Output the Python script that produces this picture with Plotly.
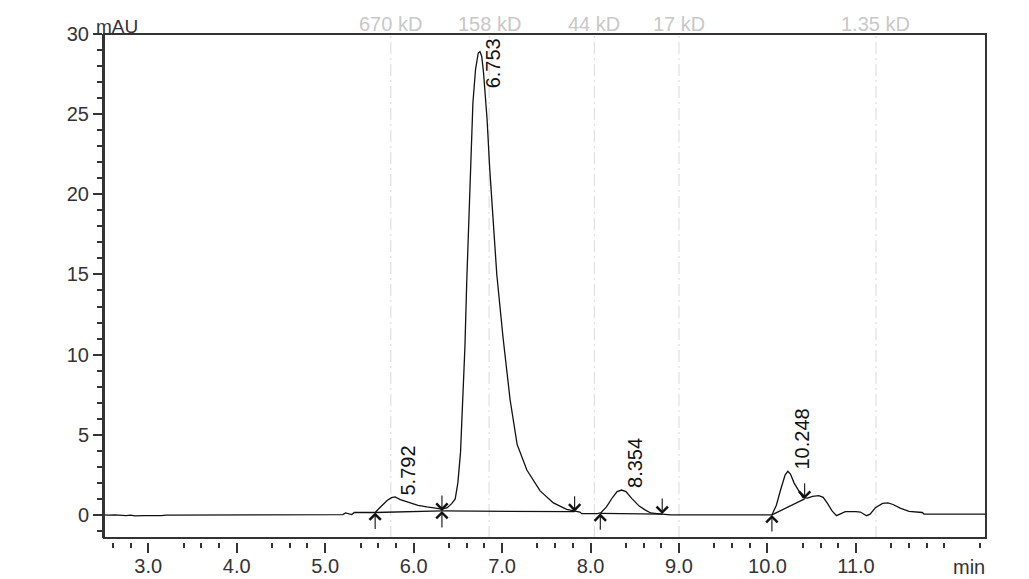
import plotly.graph_objects as go

# chromatogram signal (min, mAU)
time_min = [2.50, 2.55, 2.62, 2.75, 2.80, 2.85, 2.95, 3.05, 3.10, 3.15, 3.20, 4.00, 5.00, 5.20, 5.23, 5.27,
            5.30, 5.33, 5.565, 5.60, 5.65, 5.70, 5.75, 5.79, 5.85, 5.95, 6.05, 6.15, 6.25, 6.32,
            6.38, 6.43, 6.47, 6.50, 6.53, 6.56, 6.58, 6.60, 6.62, 6.64, 6.67, 6.70, 6.73, 6.75, 6.77,
            6.79, 6.83, 6.86, 6.90, 6.94, 7.01, 7.09, 7.17, 7.28, 7.43, 7.58, 7.73, 7.85, 7.88, 7.90,
            8.08, 8.12, 8.18, 8.25, 8.30, 8.35, 8.40, 8.47, 8.55, 8.62, 8.68, 8.75, 8.82, 8.90,
            10.05, 10.10, 10.15, 10.20, 10.23, 10.26, 10.30, 10.35, 10.40, 10.45, 10.51, 10.58, 10.63,
            10.68, 10.73, 10.78, 10.82, 10.88, 11.00, 11.05, 11.12, 11.16, 11.22, 11.30, 11.36, 11.42,
            11.50, 11.60, 11.75, 11.77, 12.47]
signal_mau = [0.00, -0.02, 0.00, -0.05, -0.02, -0.06, -0.04, -0.06, -0.03, -0.05, -0.02, -0.01, 0.00, 0.02, 0.12, 0.08,
              0.02, 0.15, 0.15, 0.35, 0.65, 0.90, 1.08, 1.12, 0.95, 0.75, 0.60, 0.50, 0.42, 0.36,
              0.45, 0.70, 1.00, 2.00, 3.90, 7.50, 10.5, 14.5, 17.5, 21.5, 25.7, 27.8, 28.8, 28.9, 28.6,
              27.6, 24.7, 21.6, 18.4, 15.0, 11.1, 7.20, 4.40, 2.80, 1.50, 0.75, 0.35, 0.20, 0.18, 0.08,
              0.08, 0.15, 0.50, 1.10, 1.45, 1.55, 1.45, 1.00, 0.55, 0.30, 0.12, 0.08, 0.05, 0.00,
              0.00, 0.60, 1.60, 2.50, 2.72, 2.55, 2.00, 1.50, 1.08, 1.05, 1.15, 1.20, 1.10,
              0.70, 0.25, -0.05, 0.05, 0.20, 0.20, 0.18, -0.05, 0.05, 0.45, 0.72, 0.75, 0.65,
              0.42, 0.22, 0.15, 0.05, 0.05]

# integration events
peak_rt = [5.792, 6.753, 8.354, 10.248]
peak_label_y = [1.1, 26.5, 1.55, 2.7]
start_t = [5.565, 6.32, 8.11, 10.05]
start_y = [0.15, 0.25, 0.10, 0.00]
end_t = [6.32, 7.82, 8.81, 10.42]
end_y = [0.25, 0.20, 0.05, 1.00]

# size markers
marker_t = [5.742, 6.853, 8.043, 9.0, 11.226]
marker_lbl = ["670 kD", "158 kD", "44 kD", "17 kD", "1.35 kD"]

x_ticks = [3, 4, 5, 6, 7, 8, 9, 10, 11, 12]
x_ticktext = ["3.0", "4.0", "5.0", "6.0", "7.0", "8.0", "9.0", "10.0", "11.0", ""]

FONT = "Liberation Sans Narrow, Liberation Sans, Arial, sans-serif"
INK = "#111111"
AX = "#333333"

fig = go.Figure()

for t, lbl in zip(marker_t, marker_lbl):
    fig.add_vline(x=t, line=dict(color="#d9d9d9", width=1, dash="12px,4px,2px,4px"), layer="below")
    fig.add_annotation(x=t, xref="x", y=1, yref="paper", yanchor="bottom", text=lbl, showarrow=False,
                       font=dict(family=FONT, size=20, color="#c8c8c8"), yshift=-3)

fig.add_trace(go.Scatter(x=time_min, y=signal_mau, mode="lines", line=dict(color=INK, width=1.3),
                         hoverinfo="skip"))

for i in range(len(start_t)):
    fig.add_trace(go.Scatter(x=[start_t[i], end_t[i]], y=[start_y[i], end_y[i]], mode="lines",
                             line=dict(color=INK, width=1.3), hoverinfo="skip"))

# arrows: start of peak from below, end of peak from above
for t, y in zip(start_t, start_y):
    fig.add_annotation(x=t, y=y, ax=0, ay=18, text="", showarrow=True, arrowhead=4,
                       arrowsize=2.0, arrowwidth=1.1, arrowcolor=INK)
for t, y in zip(end_t, end_y):
    fig.add_annotation(x=t, y=y, ax=0, ay=-17, text="", showarrow=True, arrowhead=4,
                       arrowsize=2.0, arrowwidth=1.1, arrowcolor=INK)

for rt, y in zip(peak_rt, peak_label_y):
    fig.add_annotation(x=rt, y=y, text=f"{rt:.3f}", textangle=-90, showarrow=False,
                       xanchor="center", yanchor="bottom", xshift=13,
                       font=dict(family=FONT, size=20, color=INK))

fig.add_annotation(x=0, xref="paper", y=1, yref="paper", text="mAU", showarrow=False,
                   xanchor="left", yanchor="bottom", xshift=-10, yshift=-5,
                   font=dict(family=FONT, size=19, color=AX))
fig.add_annotation(x=12.28, xref="x", y=0, yref="paper", text="min", showarrow=False,
                   yanchor="top", yshift=-12, font=dict(family=FONT, size=20, color=AX))

# plot frame
fig.add_shape(type="rect", xref="x domain", yref="y domain", x0=0, x1=1, y0=0, y1=1,
              line=dict(color=AX, width=2), layer="above")

minor_x = [round(2.6 + 0.2 * k, 1) for k in range(50) if (k + 2) % 5 != 0]

# page body adds an 8px margin at top/left, so margins are shifted by 8px
fig.update_layout(
    width=1021, height=571,
    margin=dict(l=96, r=43, t=26, b=37),
    plot_bgcolor="white", paper_bgcolor="white",
    showlegend=False,
    font=dict(family=FONT, color=AX),
    xaxis=dict(range=[2.5, 12.47], anchor="free", position=0, showline=False, showgrid=False,
               zeroline=False, automargin=False, tickmode="array", tickvals=x_ticks, ticktext=x_ticktext,
               ticks="outside", ticklen=10, tickwidth=1.5, tickcolor=AX, ticklabelstandoff=-4,
               tickfont=dict(family=FONT, size=20, color=AX),
               minor=dict(tickmode="array", tickvals=minor_x, ticks="outside", ticklen=5,
                          tickwidth=1.5, tickcolor=AX, showgrid=False)),
    yaxis=dict(range=[-1.44, 30], domain=[0.0079, 1], showline=True, linecolor=AX, linewidth=2,
               showgrid=False, zeroline=False, automargin=False, tickmode="linear", tick0=0, dtick=5,
               ticks="outside", ticklen=9, tickwidth=1.5, tickcolor=AX,
               tickfont=dict(family=FONT, size=20, color=AX),
               minor=dict(tickmode="linear", tick0=0, dtick=1, ticks="outside", ticklen=5,
                          tickwidth=1.5, tickcolor=AX, showgrid=False)),
)

fig.write_html("out.html")
